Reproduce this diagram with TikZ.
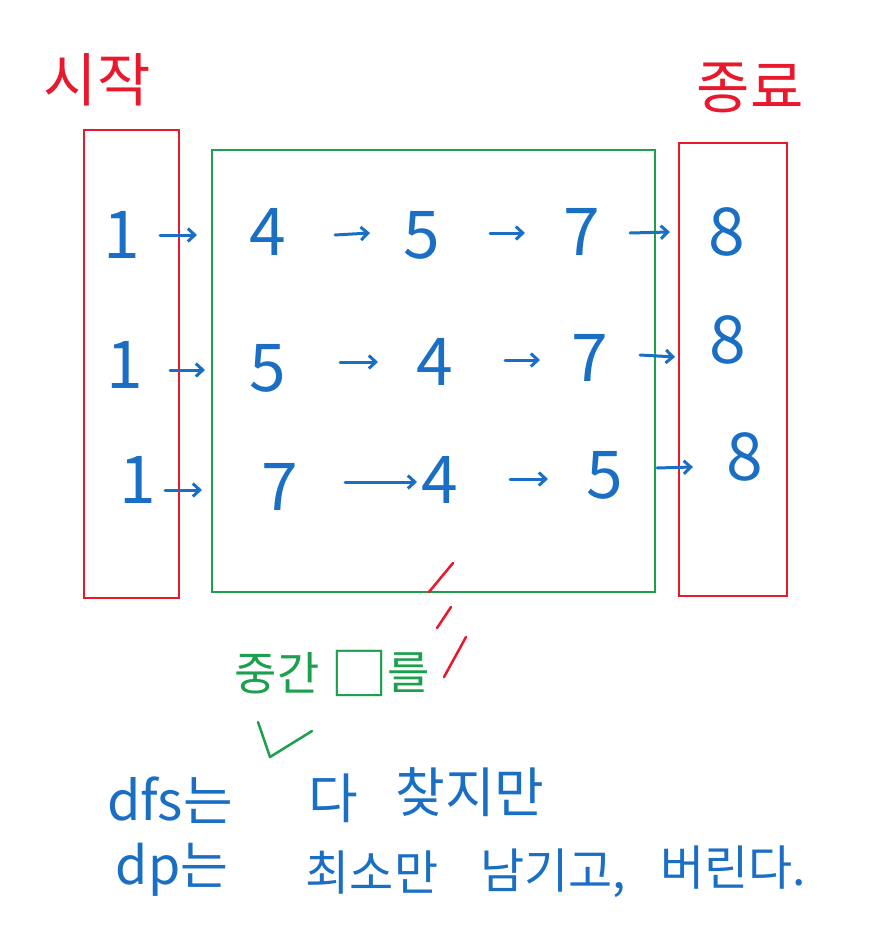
\documentclass[tikz,border=0pt]{standalone}
\usepackage{fontspec}
\setmainfont{Noto Sans CJK KR}
\usetikzlibrary{arrows.meta}
\definecolor{hred}{HTML}{E8192C}
\definecolor{hgreen}{HTML}{1DA04E}
\definecolor{hblue}{HTML}{1A6FC4}
\begin{document}
\begin{tikzpicture}[x=1pt,y=-1pt,
  redbox/.style={draw=hred,line width=2.8pt},
  greenbox/.style={draw=hgreen,line width=2.8pt},
  digit/.style={text=hblue,font=\fontsize{66}{66}\selectfont,inner sep=0pt},
  arr/.style={draw=hblue,line width=3pt,line cap=round,-{Straight Barb[length=7pt,width=13pt]}},
  redlbl/.style={text=hred,font=\fontsize{58}{58}\selectfont,inner sep=0pt},
  greenlbl/.style={text=hgreen,font=\fontsize{46}{46}\selectfont,inner sep=0pt},
  bluetxt/.style={text=hblue,font=\fontsize{54}{54}\selectfont,inner sep=0pt},
  stroke/.style={line width=2.5pt,line cap=round}]
\useasboundingbox[fill=white] (0,0) rectangle (878,941);
% boxes
\draw[redbox] (84,130) rectangle (179,598);
\draw[greenbox] (212,150) rectangle (655,592);
\draw[redbox] (679,143) rectangle (787,596);
% labels
\node[redlbl] (start) at (97,80) {시작};
\node[redlbl] (end) at (750,88) {종료};
% row 1
\node[digit] (a1) at (122,235) {1};
\node[digit] (a2) at (268,232) {4};
\node[digit] (a3) at (422,235) {5};
\node[digit] (a4) at (582,232) {7};
\node[digit] (a5) at (727,232) {8};
% row 2
\node[digit] (b1) at (125,365) {1};
\node[digit] (b2) at (268,368) {5};
\node[digit] (b3) at (435,362) {4};
\node[digit] (b4) at (590,358) {7};
\node[digit] (b5) at (728,340) {8};
% row 3
\node[digit] (c1) at (138,480) {1};
\node[digit] (c2) at (280,487) {7};
\node[digit] (c3) at (440,480) {4};
\node[digit] (c4) at (605,475) {5};
\node[digit] (c5) at (745,457) {8};
% arrow end points
\coordinate (a12s) at (160,235); \coordinate (a12e) at (197,235);
\coordinate (a23s) at (335,235); \coordinate (a23e) at (370,233);
\coordinate (a34s) at (490,233); \coordinate (a34e) at (525,233);
\coordinate (a45s) at (630,233); \coordinate (a45e) at (670,232);
\coordinate (b12s) at (170,370); \coordinate (b12e) at (205,370);
\coordinate (b23s) at (340,362); \coordinate (b23e) at (378,362);
\coordinate (b34s) at (505,360); \coordinate (b34e) at (540,360);
\coordinate (b45s) at (640,355); \coordinate (b45e) at (675,357);
\coordinate (c12s) at (165,490); \coordinate (c12e) at (202,490);
\coordinate (c23s) at (345,482); \coordinate (c23e) at (417,482);
\coordinate (c34s) at (510,479); \coordinate (c34e) at (548,479);
\coordinate (c45s) at (657,468); \coordinate (c45e) at (693,467);
\foreach \r in {a12,a23,a34,a45,b12,b23,b34,b45,c12,c23,c34,c45}
  \draw[arr] (\r s) -- (\r e);
% red slashes
\coordinate (s1a) at (429,592); \coordinate (s1b) at (453,563);
\coordinate (s2a) at (437,628); \coordinate (s2b) at (451,607);
\coordinate (s3a) at (444,677); \coordinate (s3b) at (466,637);
\draw[stroke,hred] (s1a) -- (s1b);
\draw[stroke,hred] (s2a) -- (s2b);
\draw[stroke,hred] (s3a) -- (s3b);
% green note
\node[greenlbl] (mid) at (277,673) {중간};
\node[greenlbl,font=\fontsize{58}{58}\selectfont] (sq) at (359,673) {□};
\node[greenlbl] (rul) at (409,673) {를};
\coordinate (k1) at (258,722); \coordinate (k2) at (270,757); \coordinate (k3) at (312,731);
\draw[stroke,hgreen,line join=round] (k1) -- (k2) -- (k3);
% blue text
\node[bluetxt] (dfs) at (170,800) {dfs는};
\node[bluetxt] (da) at (333,798) {다};
\node[bluetxt] (chat) at (470,792) {찾지만};
\node[bluetxt,font=\fontsize{52}{52}\selectfont] (dp) at (172,870) {dp는};
\node[bluetxt,font=\fontsize{48}{48}\selectfont] (choe) at (372,873) {최소만};
\node[bluetxt,font=\fontsize{48}{48}\selectfont] (nam) at (553,873) {남기고,};
\node[bluetxt,font=\fontsize{48}{48}\selectfont] (beo) at (733,868) {버린다.};
\end{tikzpicture}
\end{document}
